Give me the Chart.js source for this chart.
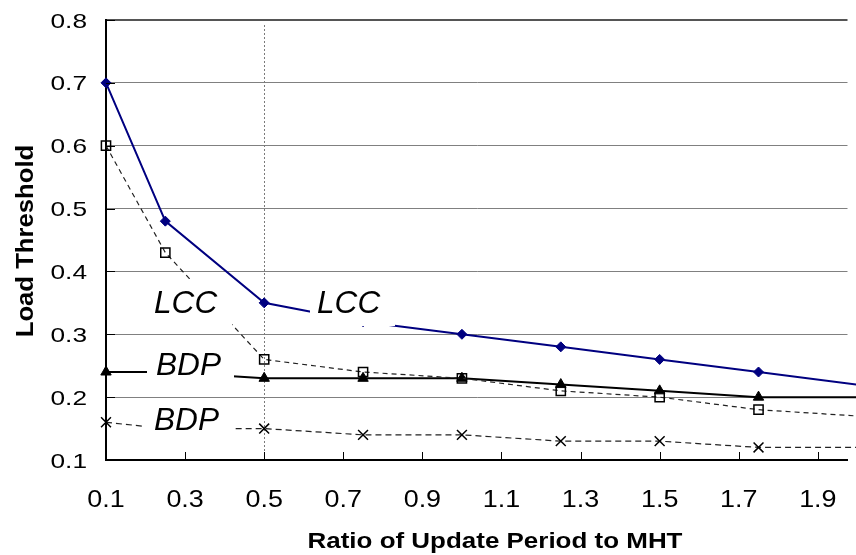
<!DOCTYPE html>
<html>
<head>
<meta charset="utf-8">
<script src="https://cdn.jsdelivr.net/npm/chart.js@4/dist/chart.umd.min.js"></script>
<style>
  html, body { margin: 0; padding: 0; background: #fff; }
  #wrap { position: relative; width: 856px; height: 555px; }
</style>
</head>
<body>
<div id="wrap"><canvas id="c"></canvas></div>
<script>
// Ratio of update period to MHT (x values shared by every series)
const ratio = [0.1, 0.25, 0.5, 0.75, 1.0, 1.25, 1.5, 1.75, 2.0];

// Load threshold per series
const lccUpper = [0.70, 0.48, 0.35, 0.32, 0.30, 0.28, 0.26, 0.24, 0.22];
const lccLower = [0.60, 0.43, 0.26, 0.24, 0.23, 0.21, 0.20, 0.18, 0.17];
const bdpUpper = [0.24, 0.24, 0.23, 0.23, 0.23, 0.22, 0.21, 0.20, 0.20];
const bdpLower = [0.16, 0.15, 0.15, 0.14, 0.14, 0.13, 0.13, 0.12, 0.12];

// Axis tick labels
const xTicks = [0.1, 0.3, 0.5, 0.7, 0.9, 1.1, 1.3, 1.5, 1.7, 1.9];
const yTicks = [0.1, 0.2, 0.3, 0.4, 0.5, 0.6, 0.7, 0.8];

// Reference ratio marked with a dotted vertical line
const markRatio = [0.5];

// Axis titles and in-plot series labels
const xTitle = 'Ratio of Update Period to MHT';
const yTitle = 'Load Threshold';
const seriesTags = ['LCC', 'LCC', 'BDP', 'BDP'];

const pts = ys => ratio.map((x, i) => ({ x, y: ys[i] }));

// draw text with a horizontal stretch factor (optionally rotated)
function stretchText(ctx, text, x, y, font, sx, align, angle) {
  ctx.save();
  ctx.translate(x, y);
  if (angle) ctx.rotate(angle);
  ctx.scale(sx, 1);
  ctx.font = font;
  ctx.textAlign = align;
  ctx.textBaseline = 'alphabetic';
  ctx.fillStyle = '#000';
  ctx.fillText(text, 0, 0);
  ctx.restore();
}

const decorations = {
  id: 'decorations',
  beforeDraw(chart) {
    const { ctx, width, height } = chart;
    ctx.save();
    ctx.fillStyle = '#fff';
    ctx.fillRect(0, 0, width, height);
    ctx.restore();
  },
  beforeDatasetsDraw(chart) {
    const { ctx, chartArea: a, scales: { x } } = chart;
    ctx.save();
    ctx.strokeStyle = '#7a7a7a';
    ctx.lineWidth = 1;
    ctx.setLineDash([2, 2]);
    markRatio.forEach(v => {
      const px = Math.round(x.getPixelForValue(v)) + 0.5;
      ctx.beginPath();
      ctx.moveTo(px, a.top + 5);
      ctx.lineTo(px, a.bottom);
      ctx.stroke();
    });
    ctx.restore();
  },
  afterDatasetsDraw(chart) {
    const { ctx, chartArea: a, scales: { x, y } } = chart;
    ctx.save();
    // inside tick marks
    ctx.strokeStyle = '#000';
    ctx.lineWidth = 1;
    yTicks.forEach(v => {
      const py = Math.round(y.getPixelForValue(v)) + 0.5;
      ctx.beginPath();
      ctx.moveTo(a.left, py);
      ctx.lineTo(a.left + 9, py);
      ctx.stroke();
    });
    xTicks.forEach(v => {
      const px = Math.round(x.getPixelForValue(v)) + 0.5;
      ctx.beginPath();
      ctx.moveTo(px, a.bottom);
      ctx.lineTo(px, a.bottom - 8);
      ctx.stroke();
    });
    // series labels on white boxes
    const boxes = [
      { l: 148, t: 279, r: 232, b: 326, tx: 154, ty: 313 },
      { l: 310, t: 279, r: 395, b: 326, tx: 317, ty: 313 },
      { l: 147, t: 341, r: 234, b: 386, tx: 156, ty: 375 },
      { l: 145, t: 403, r: 232, b: 451, tx: 154, ty: 430 }
    ];
    boxes.forEach((bx, i) => {
      ctx.fillStyle = '#fff';
      ctx.fillRect(bx.l, bx.t, bx.r - bx.l, bx.b - bx.t);
      stretchText(ctx, seriesTags[i], bx.tx, bx.ty, 'italic 31px "Liberation Sans", Arial, sans-serif', 1.02, 'left');
    });
    ctx.restore();
  },
  afterDraw(chart) {
    const { ctx, scales: { x, y } } = chart;
    yTicks.forEach(v => {
      stretchText(ctx, v.toFixed(1), 87, y.getPixelForValue(v) + 7.5,
        '21px "Liberation Sans", Arial, sans-serif', 1.25, 'right');
    });
    xTicks.forEach(v => {
      stretchText(ctx, v.toFixed(1), x.getPixelForValue(v), 507,
        '23px "Liberation Sans", Arial, sans-serif', 1.17, 'center');
    });
    stretchText(ctx, xTitle, 495, 548, 'bold 22px "Liberation Sans", Arial, sans-serif', 1.18, 'center');
    stretchText(ctx, yTitle, 33, 241, 'bold 24px "Liberation Sans", Arial, sans-serif', 1.07, 'center', -Math.PI / 2);
  }
};

new Chart(document.getElementById('c'), {
  type: 'line',
  data: {
    datasets: [
      {
        label: 'LCC (upper)',
        data: pts(lccUpper),
        borderColor: '#000080',
        borderWidth: 2,
        pointStyle: 'rectRot',
        pointRadius: 5,
        pointBackgroundColor: '#000080',
        pointBorderColor: '#000080',
        pointBorderWidth: 1,
        clip: 10
      },
      {
        label: 'LCC (lower)',
        data: pts(lccLower),
        borderColor: '#222',
        borderWidth: 1.2,
        borderDash: [5, 4],
        pointStyle: 'rect',
        pointRadius: 6.5,
        pointBackgroundColor: 'rgba(0,0,0,0)',
        pointBorderColor: '#000',
        pointBorderWidth: 1.5,
        clip: 10
      },
      {
        label: 'BDP (upper)',
        data: pts(bdpUpper),
        borderColor: '#000',
        borderWidth: 2,
        pointStyle: 'triangle',
        pointRadius: 6,
        pointBackgroundColor: '#000',
        pointBorderColor: '#000',
        pointBorderWidth: 1,
        clip: 10
      },
      {
        label: 'BDP (lower)',
        data: pts(bdpLower),
        borderColor: '#222',
        borderWidth: 1.2,
        borderDash: [6, 4],
        pointStyle: 'crossRot',
        pointRadius: 7,
        pointBorderColor: '#000',
        pointBorderWidth: 1.5,
        clip: 10
      }
    ]
  },
  options: {
    responsive: true,
    maintainAspectRatio: false,
    animation: false,
    events: [],
    layout: { padding: { left: 106, top: 20, right: 0, bottom: 95 } },
    plugins: { legend: { display: false }, tooltip: { enabled: false } },
    scales: {
      x: {
        type: 'linear',
        min: 0.1,
        max: 1.975,
        grid: { display: false, drawTicks: false },
        border: { display: true, color: '#000', width: 2 },
        ticks: { display: false },
        afterFit(s) { s.height = 0; }
      },
      y: {
        type: 'linear',
        min: 0.1,
        max: 0.8,
        ticks: { display: false, stepSize: 0.1 },
        grid: {
          drawTicks: false,
          color: ctx => (ctx.tick && ctx.tick.value > 0.79) ? '#555' : '#808080',
          lineWidth: ctx => (ctx.tick && ctx.tick.value > 0.79) ? 2 : 1
        },
        border: { display: true, color: '#000', width: 2 },
        afterFit(s) { s.width = 0; }
      }
    }
  },
  plugins: [decorations]
});
</script>
</body>
</html>
